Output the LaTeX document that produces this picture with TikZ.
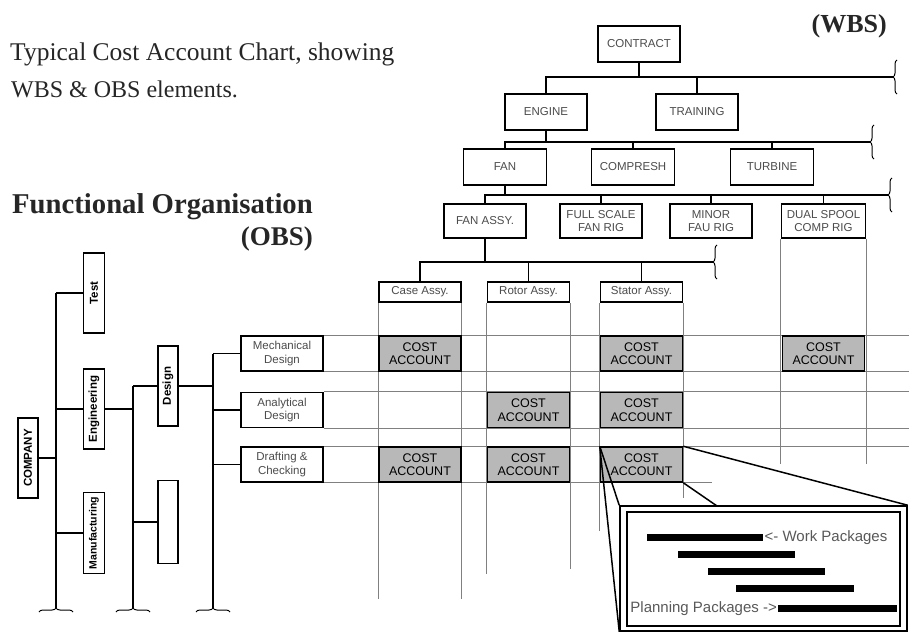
\documentclass[tikz,border=0pt]{standalone}
\usepackage{fontspec}
\setmainfont{Liberation Serif}
\setsansfont{Liberation Sans}
\usetikzlibrary{decorations.pathreplacing}

\begin{document}
\begin{tikzpicture}[x=1pt, y=-1pt,
  ln/.style={line width=1.5pt},
  grid/.style={line width=0.8pt, black!50},
  wbs/.style={draw, line width=1.5pt, fill=white, minimum width=82pt, minimum height=36pt, inner sep=1pt, align=center, text=black!70, font=\sffamily\fontsize{11.5}{12.5}\selectfont},
  asm/.style={wbs, minimum height=20pt},
  obsv/.style={draw, line width=1.5pt, rotate=90, minimum height=21pt, inner sep=0pt, font=\sffamily\bfseries\fontsize{11.5}{12}\selectfont},
  obs/.style={wbs, minimum height=35pt, font=\sffamily\fontsize{11.5}{13.5}\selectfont},
  cost/.style={draw, line width=1.5pt, fill=black!28, minimum width=82pt, minimum height=35pt, inner sep=0pt, align=center, font=\sffamily\fontsize{12.5}{13.5}\selectfont},
  brk/.style={decorate, decoration={brace, amplitude=4pt}, line width=1pt},
  bar/.style={fill=black, inner sep=0pt, minimum height=7pt, anchor=west},
  pk/.style={inner sep=1pt, text=black!65, font=\sffamily\fontsize{15}{17}\selectfont},
  title/.style={inner sep=0pt, text=black!85, font=\fontsize{25.5}{28}\selectfont}]
\useasboundingbox (0,0) rectangle (909,631);

% headings
\node[title, anchor=base west] (head1) at (10,61) {Typical Cost Account Chart, showing};
\node[title, anchor=base west, font=\fontsize{24}{28}\selectfont] (head2) at (11,98) {WBS \& OBS elements.};
\node[title, anchor=base west, font=\bfseries\fontsize{28.7}{30}\selectfont] (func) at (12,213) {Functional Organisation};
\node[title, anchor=base east, font=\bfseries\fontsize{27}{30}\selectfont] (obshead) at (313,245) {(OBS)};
\node[title, anchor=base east, font=\bfseries\fontsize{26}{30}\selectfont] (wbshead) at (887,33) {(WBS)};

% WBS tree
\node[wbs] (contract) at (639,44) {CONTRACT};
\node[wbs] (engine) at (546,112) {ENGINE};
\node[wbs] (training) at (697,112) {TRAINING};
\node[wbs, minimum width=83pt] (fan) at (505,167) {FAN};
\node[wbs, minimum width=83pt] (compresh) at (633,167) {COMPRESH};
\node[wbs, minimum width=83pt] (turbine) at (772,167) {TURBINE};
\node[wbs, minimum height=34pt] (fanassy) at (485,221) {FAN ASSY.};
\node[wbs, minimum height=34pt] (fullscale) at (601,221) {FULL SCALE\\FAN RIG};
\node[wbs, minimum height=34pt] (minor) at (711,221) {MINOR\\FAU RIG};
\node[wbs, minimum height=34pt, minimum width=84pt] (dualspool) at (823.5,221) {DUAL SPOOL\\COMP RIG};
\node[asm] (caseassy) at (420,292) {Case Assy.};
\node[asm] (rotorassy) at (528.5,292) {Rotor Assy.};
\node[asm] (statorassy) at (641.5,292) {Stator Assy.};

\coordinate (bus1) at (893,77);
\coordinate (bus2) at (870,142);
\coordinate (bus3) at (888,195);
\coordinate (bus4) at (713,262);
\draw[ln] (contract.south) -- (contract.south |- bus1);
\draw[ln] (engine.north) |- (bus1);
\draw[ln] (training.north) -- (training.north |- bus1);
\draw[ln] (engine.south) -- (engine.south |- bus2);
\draw[ln] (fan.north) |- (bus2);
\draw[ln] (compresh.north) -- (compresh.north |- bus2);
\draw[ln] (turbine.north) -- (turbine.north |- bus2);
\draw[ln] (fan.south) -- (fan.south |- bus3);
\draw[ln] (fanassy.north) |- (bus3);
\draw[ln] (fullscale.north) -- (fullscale.north |- bus3);
\draw[ln] (minor.north) -- (minor.north |- bus3);
\draw[ln] (dualspool.north) -- (dualspool.north |- bus3);
\draw[ln] (fanassy.south) -- (fanassy.south |- bus4);
\draw[ln] (caseassy.north) |- (bus4);
\draw[ln] (rotorassy.north) -- (rotorassy.north |- bus4);
\draw[ln] (statorassy.north) -- (statorassy.north |- bus4);
\foreach \b in {bus1, bus2, bus3, bus4}
  \draw[brk] ([shift={(4,17)}]\b) -- ([shift={(4,-17)}]\b);

% OBS tree
\node[obsv, minimum width=80pt, minimum height=20pt] (company) at (28,458) {COMPANY};
\node[obsv, minimum width=80pt] (test) at (94,293) {Test};
\node[obsv, minimum width=80pt] (engineering) at (94,409) {Engineering};
\node[obsv, minimum width=81pt, font=\sffamily\bfseries\fontsize{10.5}{12}\selectfont] (manufacturing) at (94,533) {Manufacturing};
\node[obsv, minimum width=80pt, minimum height=20pt] (design) at (168,386) {Design};
\node[obsv, minimum width=83pt, minimum height=20pt] (blank) at (168,522) {};
\node[obs] (mech) at (282,353.5) {Mechanical\\Design};
\node[obs] (analytical) at (282,410) {Analytical\\Design};
\node[obs] (drafting) at (282,464.5) {Drafting \&\\Checking};

\coordinate (o1b) at (56,608);
\coordinate (o2b) at (133,608);
\coordinate (o3b) at (213,608);
\draw[ln] (test.north -| o1b) -- (o1b);
\draw[ln] (company.south) -- (company.south -| o1b);
\draw[ln] (test.north) -- (test.north -| o1b);
\draw[ln] (engineering.north) -- (engineering.north -| o1b);
\draw[ln] (manufacturing.north) -- (manufacturing.north -| o1b);
\draw[ln] (design.north -| o2b) -- (o2b);
\draw[ln] (engineering.south) -- (engineering.south -| o2b);
\draw[ln] (design.north) -- (design.north -| o2b);
\draw[ln] (blank.north) -- (blank.north -| o2b);
\draw[ln] (mech.west -| o3b) -- (o3b);
\draw[ln] (design.south) -- (design.south -| o3b);
\draw[ln] (mech.west) -- (mech.west -| o3b);
\draw[ln] (analytical.west) -- (analytical.west -| o3b);
\draw[ln] (drafting.west) -- (drafting.west -| o3b);
\foreach \b in {o1b, o2b, o3b}
  \draw[brk] ([shift={(-17,4)}]\b) -- ([shift={(17,4)}]\b);

% grid of rows and columns
\coordinate (rx) at (909,0);
\coordinate (dx) at (712,0);
\foreach \r in {mech, analytical} {
  \draw[grid] (\r.north east) -- (\r.north east -| rx);
  \draw[grid] (\r.south east) -- (\r.south east -| rx);
}
\draw[grid] (drafting.north east) -- (drafting.north east -| rx);
\draw[grid] (drafting.south east) -- (drafting.south east -| dx);
\foreach \c/\lw/\le in {caseassy/296/296, rotorassy/271/266, statorassy/228/195, dualspool/225/225} {
  \draw[grid] (\c.south west) -- ++(0,\lw);
  \draw[grid] (\c.south east) -- ++(0,\le);
}

% cost accounts
\foreach \c/\r in {caseassy/mech, statorassy/mech, dualspool/mech, rotorassy/analytical, statorassy/analytical, caseassy/drafting, rotorassy/drafting, statorassy/drafting}
  \node[cost] (ca-\c-\r) at (\c |- \r) {COST\\ACCOUNT};

% work package detail
\node[draw, line width=1.5pt, fill=white, minimum width=287pt, minimum height=125pt, inner sep=0pt] (inset) at (763.5,568.5) {};
\node[draw, line width=1.5pt, minimum width=273pt, minimum height=114pt, inner sep=0pt] (insetin) at (763.5,569) {};
\coordinate (zc) at (717,506);
\draw[ln] (ca-statorassy-drafting.north west) -- (inset.south west);
\draw[ln] (ca-statorassy-drafting.north west) -- (inset.north west);
\draw[ln] (ca-statorassy-drafting.south east) -- (zc);
\draw[ln] (ca-statorassy-drafting.north east) -- (inset.north east);

\node[bar, minimum width=116pt] (wp1) at (647,537.5) {};
\node[bar, minimum width=117pt] (wp2) at (678,554.5) {};
\node[bar, minimum width=117pt] (wp3) at (708,571) {};
\node[bar, minimum width=118pt] (wp4) at (736,588.5) {};
\node[bar, minimum width=119pt] (wp5) at (778,608.5) {};
\node[pk, anchor=west] (wplabel) at (wp1.east) {<- Work Packages};
\node[pk, anchor=east] (pplabel) at (wp5.west) {Planning Packages ->};
\end{tikzpicture}
\end{document}
